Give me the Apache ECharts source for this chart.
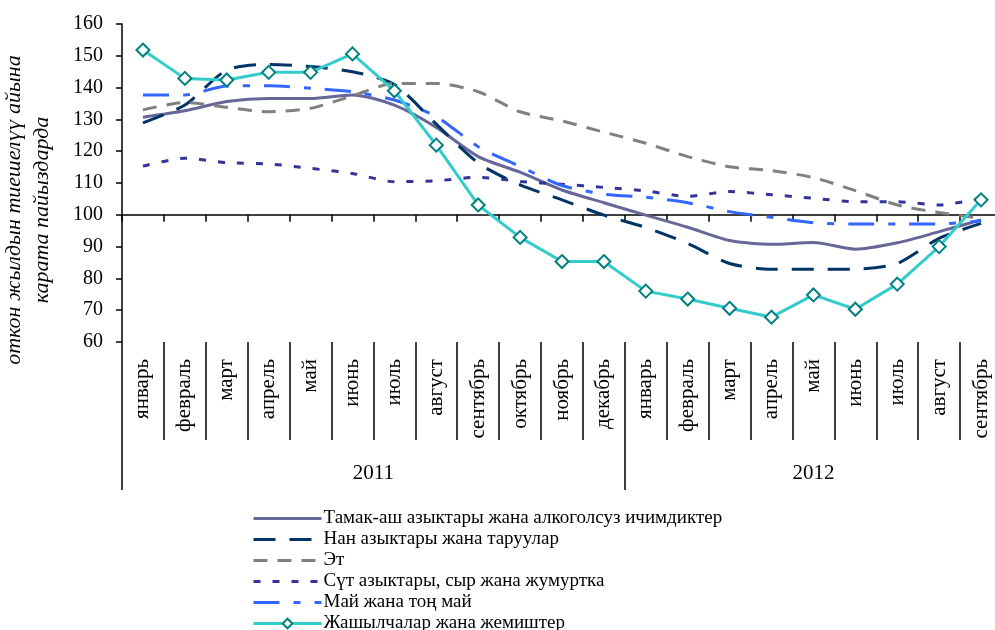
<!DOCTYPE html>
<html>
<head>
<meta charset="utf-8">
<script src="https://cdn.jsdelivr.net/npm/echarts@6/dist/echarts.min.js"></script>
<style>
  html, body { margin: 0; padding: 0; background: #fff; }
  #chart { width: 995px; height: 630px; }
</style>
</head>
<body>
<div id="chart"></div>
<script>
// months along the bottom, split into two years
const months = ['январь', 'февраль', 'март', 'апрель', 'май', 'июнь', 'июль', 'август', 'сентябрь', 'октябрь', 'ноябрь', 'декабрь',
  'январь', 'февраль', 'март', 'апрель', 'май', 'июнь', 'июль', 'август', 'сентябрь']
const years = ['2011', '2012']
const yearMonths = [12, 9]

const seriesNames = [
  'Тамак-аш азыктары жана алкоголсуз ичимдиктер',
  'Нан азыктары жана таруулар',
  'Эт',
  'Сүт азыктары, сыр жана жумуртка',
  'Май жана тоң май',
  'Жашылчалар жана жемиштер'
]

const food = [130.7, 132.7, 135.6, 136.6, 136.6, 137.7, 134.5, 127.5, 118.3, 113.4, 107.8, 103.8, 99.9, 96.1, 91.9, 90.7, 91.3, 89.2, 91.2, 94.7, 98.4]
const bread = [128.9, 134.5, 145.5, 147.3, 146.6, 145, 141, 128.5, 116.3, 109.4, 104.7, 99.9, 96, 91, 84.7, 82.9, 82.9, 82.9, 84.7, 92.6, 97.3]
const meat = [133, 135.3, 133.8, 132.4, 133.5, 137.4, 141.3, 141.3, 138.7, 132.4, 129.5, 126, 122.5, 118.3, 115.1, 113.9, 111.7, 107.6, 103.1, 100.7, 98.9]
const dairy = [115.3, 117.8, 116.4, 116, 114.6, 113, 110.4, 110.7, 111.8, 110.5, 109.6, 108.6, 107.5, 105.8, 107.3, 106.3, 105.2, 104.1, 104.1, 103.1, 105.2]
const butter = [137.7, 137.7, 140.5, 140.6, 139.8, 138.7, 136.1, 130.9, 121.4, 115.2, 109.2, 106.5, 105.5, 103.8, 101, 99.2, 97.5, 97.1, 97.1, 97.1, 98.1]
const veg = [151.8, 142.9, 142.4, 144.8, 144.8, 150.6, 139, 121.9, 103.1, 92.9, 85.3, 85.3, 76, 73.5, 70.6, 67.8, 74.8, 70.3, 78.2, 90, 104.7]

const yMin = 60
const yMax = 160
const yStep = 10
const baseLine = 100

const font = "'Liberation Serif', 'Times New Roman', serif"

// year boundaries and centres in month units
const yearBounds = [0]
const yearCenters = []
yearMonths.forEach((n, i) => {
  yearCenters.push(yearBounds[i] + n / 2)
  yearBounds.push(yearBounds[i] + n)
})

const gridTop = 24
const gridBottom = 288
const plotH = 630 - gridTop - gridBottom

const chart = echarts.init(document.getElementById('chart'))

function lineSeries(name, data, color, dash, extra) {
  return Object.assign({
    name: name,
    type: 'line',
    data: data,
    xAxisIndex: 0,
    yAxisIndex: 0,
    symbol: 'none',
    smooth: 0.25,
    lineStyle: { color: color, width: 3, type: dash },
    itemStyle: { color: color },
    z: 3
  }, extra || {})
}

// legend entries: plain lines hide the default circle marker
const hidden = { color: 'rgba(0,0,0,0)', borderColor: 'rgba(0,0,0,0)', opacity: 0 }
const legendData = seriesNames.map((n, i) => i < 5 ? { name: n, itemStyle: hidden } : { name: n })

chart.setOption({
  animation: false,
  textStyle: { fontFamily: font, color: '#000' },
  grid: { left: 122, right: -7, top: gridTop, bottom: gridBottom, containLabel: false, outerBoundsMode: 'none' },
  legend: {
    orient: 'vertical',
    left: 252,
    top: 509,
    height: 300,
    padding: 0,
    itemWidth: 68,
    itemHeight: 12,
    itemGap: 2,
    data: legendData,
    lineStyle: { width: 3 },
    textStyle: { fontFamily: font, fontSize: 19, color: '#000', padding: [0, 0, 0, -3] }
  },
  xAxis: [
    {
      type: 'category',
      position: 'bottom',
      data: months,
      boundaryGap: true,
      axisLine: { show: false },
      axisTick: { show: true, length: 98, interval: 0, lineStyle: { color: '#000', width: 1.5 } },
      axisLabel: { interval: 0, rotate: 90, margin: 17, fontFamily: font, fontSize: 21, color: '#000' },
      splitLine: { show: false }
    },
    {
      // horizontal line at 100 with short ticks hanging below it
      type: 'category',
      position: 'top',
      offset: -(yMax - baseLine) / (yMax - yMin) * plotH,
      data: months,
      boundaryGap: true,
      axisLine: { show: true, lineStyle: { color: '#000', width: 1.5 } },
      axisTick: { show: true, inside: true, length: 7, interval: 0, lineStyle: { color: '#000', width: 1.5 } },
      axisLabel: { show: false },
      splitLine: { show: false }
    },
    {
      // year groups
      type: 'value',
      position: 'bottom',
      min: 0,
      max: yearBounds[yearBounds.length - 1],
      axisLine: { show: false },
      axisTick: { show: true, length: 148, customValues: yearBounds, lineStyle: { color: '#000', width: 1.5 } },
      axisLabel: {
        customValues: yearCenters,
        margin: 121,
        fontFamily: font,
        fontSize: 21,
        color: '#000',
        formatter: v => years[yearCenters.indexOf(v)]
      },
      splitLine: { show: false }
    }
  ],
  yAxis: {
    type: 'value',
    min: yMin,
    max: yMax,
    interval: yStep,
    name: 'откон жылдын тиешелүү айына\nкарата пайыздарда',
    nameLocation: 'middle',
    nameGap: 66,
    nameTextStyle: { fontFamily: font, fontStyle: 'italic', fontSize: 22, lineHeight: 28, color: '#000', padding: [0, 54, 0, 0] },
    axisLine: { show: true, lineStyle: { color: '#000', width: 1.5 } },
    axisTick: { show: true, length: 6, lineStyle: { color: '#000', width: 1.5 } },
    axisLabel: { margin: 19, fontFamily: font, fontSize: 20, color: '#000' },
    splitLine: { show: false }
  },
  series: [
    lineSeries(seriesNames[0], food, '#666699', 'solid'),
    lineSeries(seriesNames[1], bread, '#003366', [22, 14]),
    lineSeries(seriesNames[2], meat, '#808080', [14, 10]),
    lineSeries(seriesNames[3], dairy, '#333399', [7, 12]),
    lineSeries(seriesNames[4], butter, '#3366ff', [26, 14, 7, 14]),
    lineSeries(seriesNames[5], veg, '#33cccc', 'solid', {
      smooth: false,
      symbol: 'diamond',
      symbolSize: 13,
      showSymbol: true,
      itemStyle: { color: '#fff', borderColor: '#008080', borderWidth: 2 },
      z: 4
    })
  ]
})
</script>
</body>
</html>
